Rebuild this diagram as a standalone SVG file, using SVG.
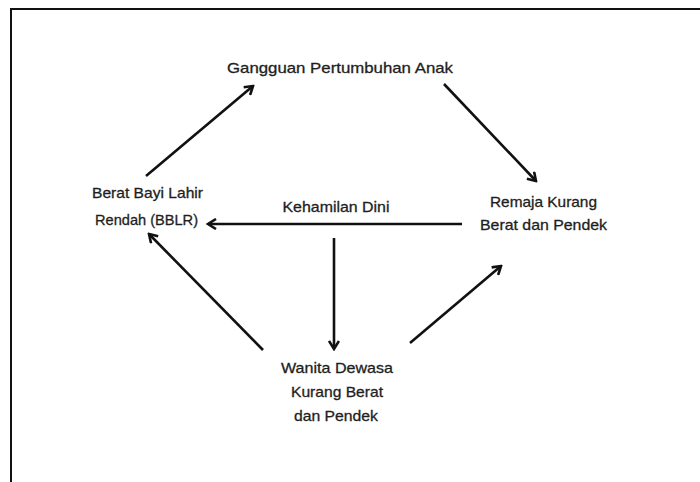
<svg xmlns="http://www.w3.org/2000/svg" width="700" height="482" viewBox="0 0 700 482">
<style>
.t{font-family:"Liberation Sans",Arial,sans-serif;font-size:15px;fill:#1e1e1e;stroke:#1e1e1e;stroke-width:0.3;text-anchor:middle}
.c{stroke:#111;stroke-width:2.6;fill:none;marker-end:url(#ah)}
</style>
<defs>
<marker id="ah" viewBox="0 0 12 12" refX="10" refY="6" markerWidth="12" markerHeight="12" markerUnits="userSpaceOnUse" orient="auto">
<path d="M2,1 L10,6 L2,11" fill="none" stroke="#111" stroke-width="2.6"/>
</marker>
</defs>
<rect width="700" height="482" fill="#fff"/>
<path d="M11,482 V9 H700" fill="none" stroke="#111" stroke-width="2"/>
<g id="connectors">
<line class="c" x1="146" y1="176" x2="253" y2="86"/>
<line class="c" x1="444" y1="84" x2="536" y2="181"/>
<line class="c" x1="462" y1="224" x2="208" y2="224"/>
<line class="c" x1="334" y1="238" x2="334" y2="349"/>
<line class="c" x1="263" y1="350" x2="149" y2="234"/>
<line class="c" x1="410" y1="343" x2="501" y2="266"/>
</g>
<g id="node-gangguan"><text class="t" x="340" y="73" textLength="226" lengthAdjust="spacingAndGlyphs">Gangguan Pertumbuhan Anak</text></g>
<g id="node-bblr">
<text class="t" x="147.5" y="198" textLength="111" lengthAdjust="spacingAndGlyphs">Berat Bayi Lahir</text>
<text class="t" x="146.5" y="225" textLength="103" lengthAdjust="spacingAndGlyphs">Rendah (BBLR)</text>
</g>
<g id="node-remaja">
<text class="t" x="543.5" y="207" textLength="107" lengthAdjust="spacingAndGlyphs">Remaja Kurang</text>
<text class="t" x="543.5" y="230" textLength="127" lengthAdjust="spacingAndGlyphs">Berat dan Pendek</text>
</g>
<g id="node-wanita">
<text class="t" x="337" y="373" textLength="112" lengthAdjust="spacingAndGlyphs">Wanita Dewasa</text>
<text class="t" x="337" y="397" textLength="92" lengthAdjust="spacingAndGlyphs">Kurang Berat</text>
<text class="t" x="336" y="421" textLength="84" lengthAdjust="spacingAndGlyphs">dan Pendek</text>
</g>
<g id="label-kehamilan"><text class="t" x="336" y="212" textLength="107" lengthAdjust="spacingAndGlyphs">Kehamilan Dini</text></g>
</svg>
